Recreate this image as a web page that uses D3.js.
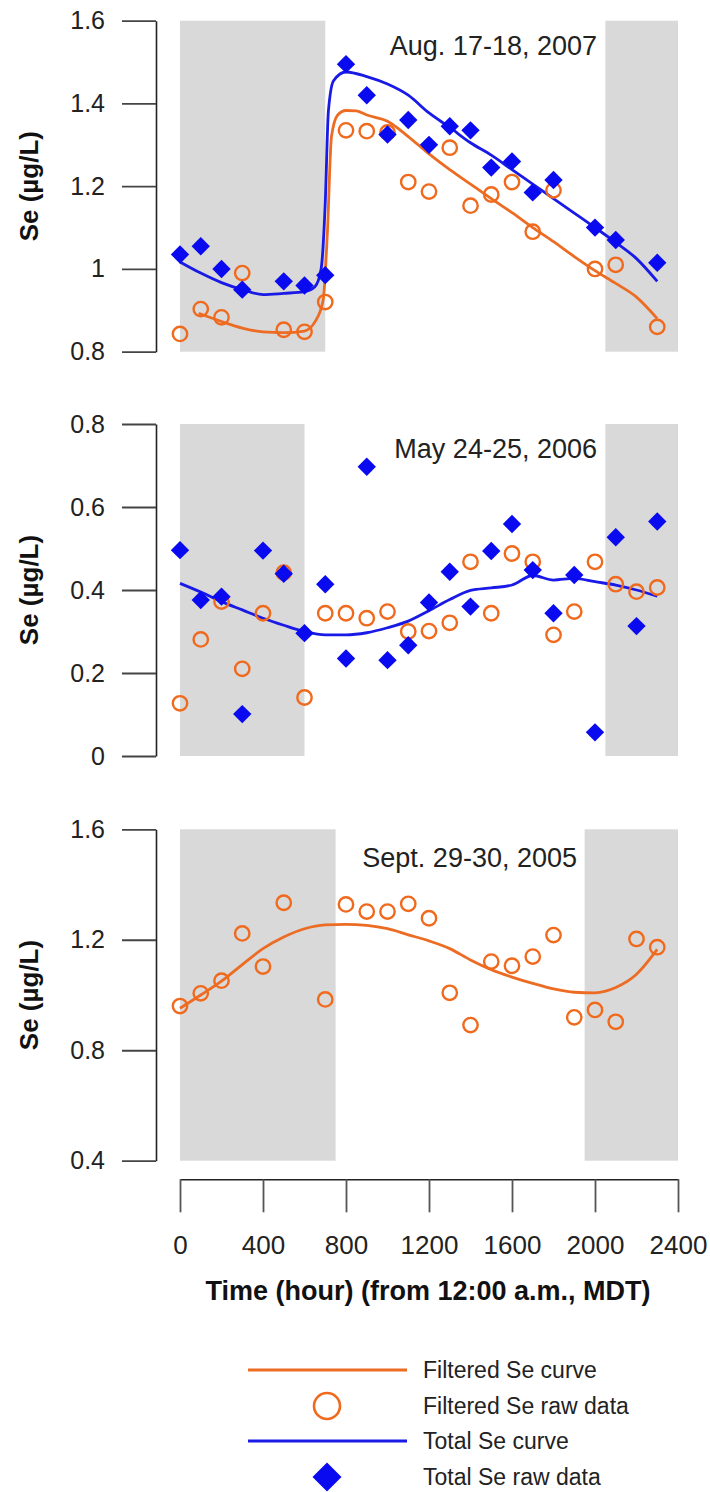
<!DOCTYPE html>
<html>
<head>
<meta charset="utf-8">
<script src="https://cdn.jsdelivr.net/npm/d3@7"></script>
<style>
  html, body { margin: 0; padding: 0; background: #fff; }
  svg { display: block; font-family: "Liberation Sans", Arial, sans-serif; }
</style>
</head>
<body>
<svg id="chart" width="710" height="1492"></svg>
<script>
// ---------- DATA ----------
const hours = [0,100,200,300,400,500,600,700,800,900,1000,1100,1200,1300,1400,1500,1600,1700,1800,1900,2000,2100,2200,2300];
const xTicks = [0,400,800,1200,1600,2000,2400];
const xTickLabels = ["0","400","800","1200","1600","2000","2400"];

// Panel 1: Aug. 17-18, 2007
const aug2007Title = "Aug. 17-18, 2007";
const aug2007YTicks = [0.8,1.0,1.2,1.4,1.6];
const aug2007YLabels = ["0.8","1","1.2","1.4","1.6"];
const aug2007Night = [[0,700],[2050,2400]];
const aug2007TotalRawT = [0,100,200,300,500,600,700,800,900,1000,1100,1200,1300,1400,1500,1600,1700,1800,2000,2100,2300];
const aug2007TotalRaw  = [1.035,1.055,1.0,0.95,0.97,0.96,0.985,1.495,1.42,1.325,1.36,1.30,1.345,1.335,1.245,1.26,1.185,1.215,1.10,1.07,1.015];
const aug2007FiltRawT  = [0,100,200,300,500,600,700,800,900,1000,1100,1200,1300,1400,1500,1600,1700,1800,2000,2100,2300];
const aug2007FiltRaw   = [0.843,0.903,0.883,0.99,0.853,0.848,0.92,1.335,1.333,1.33,1.21,1.187,1.293,1.153,1.18,1.21,1.09,1.19,1.0,1.01,0.86];
const aug2007TotalCurveT = [0,100,200,300,400,500,600,650,680,700,715,740,800,900,1000,1100,1200,1300,1400,1500,1600,1700,1800,1900,2000,2100,2200,2300];
const aug2007TotalCurve  = [1.017,0.99,0.967,0.95,0.938,0.941,0.945,0.957,1.0,1.16,1.38,1.455,1.476,1.465,1.447,1.42,1.377,1.342,1.305,1.275,1.24,1.205,1.17,1.135,1.1,1.064,1.025,0.97];
const aug2007FiltCurveT = [90,200,300,400,500,600,650,690,710,730,760,800,850,900,1000,1100,1200,1300,1400,1500,1600,1700,1800,1900,2000,2100,2200,2300];
const aug2007FiltCurve  = [0.893,0.873,0.857,0.848,0.846,0.85,0.872,0.925,1.085,1.32,1.372,1.383,1.382,1.372,1.357,1.32,1.278,1.24,1.205,1.17,1.136,1.1,1.066,1.03,0.996,0.965,0.932,0.88];

// Panel 2: May 24-25, 2006
const may2006Title = "May 24-25, 2006";
const may2006YTicks = [0,0.2,0.4,0.6,0.8];
const may2006YLabels = ["0","0.2","0.4","0.6","0.8"];
const may2006Night = [[0,600],[2050,2400]];
const may2006TotalRaw = [0.496,0.376,0.384,0.101,0.495,0.439,0.296,0.414,0.235,0.697,0.231,0.267,0.37,0.444,0.36,0.494,0.559,0.448,0.344,0.436,0.057,0.527,0.313,0.565];
const may2006FiltRaw  = [0.127,0.281,0.372,0.21,0.344,0.442,0.141,0.344,0.344,0.332,0.348,0.3,0.301,0.321,0.468,0.344,0.488,0.468,0.292,0.348,0.468,0.414,0.396,0.406];
const may2006TotalCurve = [0.416,0.395,0.372,0.352,0.332,0.315,0.3,0.292,0.292,0.297,0.309,0.325,0.35,0.377,0.399,0.405,0.412,0.435,0.424,0.428,0.42,0.412,0.4,0.385];

// Panel 3: Sept. 29-30, 2005
const sep2005Title = "Sept. 29-30, 2005";
const sep2005YTicks = [0.4,0.8,1.2,1.6];
const sep2005YLabels = ["0.4","0.8","1.2","1.6"];
const sep2005Night = [[0,750],[1950,2400]];
const sep2005FiltRawT = [0,100,200,300,400,500,700,800,900,1000,1100,1200,1300,1400,1500,1600,1700,1800,1900,2000,2100,2200,2300];
const sep2005FiltRaw  = [0.96,1.006,1.052,1.223,1.103,1.334,0.984,1.328,1.302,1.302,1.33,1.278,1.008,0.891,1.121,1.106,1.139,1.217,0.919,0.946,0.903,1.203,1.173];
const sep2005FiltCurve = [0.952,1.0,1.05,1.11,1.168,1.21,1.24,1.254,1.256,1.252,1.24,1.218,1.196,1.168,1.127,1.092,1.065,1.042,1.022,1.01,1.008,1.027,1.075,1.165];

// Legend
const legendLabels = ["Filtered Se curve","Filtered Se raw data","Total Se curve","Total Se raw data"];

// ---------- STYLE ----------
const ORANGE = "#f06a1e", ORANGE_LINE = "#ec6c24";
const BLUE = "#0a0af0", BLUE_LINE = "#1a1ae6";
const BAND = "#d9d9d9", INK = "#222";

const svg = d3.select("#chart");
const x = d3.scaleLinear().domain([0,2400]).range([180,678]);

const zip = (ts, vs) => ts.map((t,i) => ({t, v: vs[i]}));

const panels = [
  {title: aug2007Title, yDomain:[0.8,1.6], yRange:[351.7,20.7], ticks: aug2007YTicks, labels: aug2007YLabels, night: aug2007Night,
   filtCurve: zip(aug2007FiltCurveT, aug2007FiltCurve), totalCurve: zip(aug2007TotalCurveT, aug2007TotalCurve),
   filtRaw: zip(aug2007FiltRawT, aug2007FiltRaw), totalRaw: zip(aug2007TotalRawT, aug2007TotalRaw), titleX: 597, titleY: 55},
  {title: may2006Title, yDomain:[0,0.8], yRange:[756,424], ticks: may2006YTicks, labels: may2006YLabels, night: may2006Night,
   filtCurve: null, totalCurve: zip(hours, may2006TotalCurve),
   filtRaw: zip(hours, may2006FiltRaw), totalRaw: zip(hours, may2006TotalRaw), titleX: 597, titleY: 458},
  {title: sep2005Title, yDomain:[0.4,1.6], yRange:[1160.7,829.3], ticks: sep2005YTicks, labels: sep2005YLabels, night: sep2005Night,
   filtCurve: zip(hours, sep2005FiltCurve), totalCurve: null,
   filtRaw: zip(sep2005FiltRawT, sep2005FiltRaw), totalRaw: null, titleX: 577, titleY: 867}
];

function diamondPath(h) { // half-diagonal h
  return `M0,${-h}L${h},0L0,${h}L${-h},0Z`;
}

panels.forEach(p => {
  const y = d3.scaleLinear().domain(p.yDomain).range(p.yRange);
  const g = svg.append("g");

  // night bands
  g.selectAll("rect.band").data(p.night).enter().append("rect")
    .attr("x", d => x(d[0])).attr("width", d => x(d[1]) - x(d[0]))
    .attr("y", y(p.yDomain[1])).attr("height", y(p.yDomain[0]) - y(p.yDomain[1]))
    .attr("fill", BAND);

  // y axis
  const ax = g.append("g").attr("transform", "translate(156,0)")
    .call(d3.axisLeft(y).tickValues(p.ticks).tickFormat((d,i) => p.labels[i]).tickSize(34).tickSizeOuter(0).tickPadding(17));
  ax.select(".domain").attr("stroke", "#222").attr("stroke-width", 1.6);
  ax.selectAll(".tick line").attr("stroke", "#444").attr("stroke-width", 1.8);
  ax.selectAll(".tick text").attr("font-size", 25).attr("fill", INK)
    .attr("font-family", "'Liberation Sans', Arial, sans-serif");

  // y label
  const cy = (p.yRange[0] + p.yRange[1]) / 2;
  g.append("text").attr("transform", `translate(38,${cy}) rotate(-90)`)
    .attr("text-anchor", "middle").attr("font-weight", "bold").attr("font-size", 26).attr("fill", "#111")
    .text("Se (µg/L)");

  // title
  g.append("text").attr("x", p.titleX).attr("y", p.titleY).attr("text-anchor", "end")
    .attr("font-size", 27).attr("fill", INK).text(p.title);

  const line = d3.line().x(d => x(d.t)).y(d => y(d.v)).curve(d3.curveMonotoneX);

  if (p.totalCurve) g.append("path").datum(p.totalCurve).attr("d", line)
    .attr("fill", "none").attr("stroke", BLUE_LINE).attr("stroke-width", 2.8).attr("stroke-linejoin", "round");
  if (p.filtCurve) g.append("path").datum(p.filtCurve).attr("d", line)
    .attr("fill", "none").attr("stroke", ORANGE_LINE).attr("stroke-width", 2.8).attr("stroke-linejoin", "round");

  if (p.filtRaw) g.selectAll("circle.f").data(p.filtRaw).enter().append("circle")
    .attr("cx", d => x(d.t)).attr("cy", d => y(d.v)).attr("r", 7.2)
    .attr("fill", "none").attr("stroke", ORANGE).attr("stroke-width", 2.4);
  if (p.totalRaw) g.selectAll("path.d").data(p.totalRaw).enter().append("path")
    .attr("transform", d => `translate(${x(d.t)},${y(d.v)})`)
    .attr("d", diamondPath(9.2)).attr("fill", BLUE);
});

// x axis
const xa = svg.append("g").attr("transform", "translate(0,1179.3)")
  .call(d3.axisBottom(x).tickValues(xTicks).tickFormat((d,i) => xTickLabels[i]).tickSize(33).tickSizeOuter(0).tickPadding(23));
xa.select(".domain").attr("stroke", "#222").attr("stroke-width", 1.6);
xa.selectAll(".tick line").attr("stroke", "#555").attr("stroke-width", 1.8);
xa.selectAll(".tick text").attr("font-size", 26).attr("fill", INK)
  .attr("font-family", "'Liberation Sans', Arial, sans-serif");

svg.append("text").attr("x", 428).attr("y", 1300).attr("text-anchor", "middle")
  .attr("font-weight", "bold").attr("font-size", 27).attr("fill", "#111")
  .text("Time (hour) (from 12:00 a.m., MDT)");

// legend
const lg = svg.append("g");
const rowY = [1370, 1406, 1441, 1477];
lg.append("line").attr("x1", 248).attr("x2", 407).attr("y1", rowY[0]).attr("y2", rowY[0])
  .attr("stroke", ORANGE_LINE).attr("stroke-width", 3);
lg.append("circle").attr("cx", 327).attr("cy", rowY[1]).attr("r", 13)
  .attr("fill", "none").attr("stroke", ORANGE).attr("stroke-width", 2.6);
lg.append("line").attr("x1", 248).attr("x2", 407).attr("y1", rowY[2]).attr("y2", rowY[2])
  .attr("stroke", BLUE_LINE).attr("stroke-width", 3);
lg.append("path").attr("transform", `translate(327,${rowY[3]})`).attr("d", diamondPath(14.5)).attr("fill", BLUE);
lg.selectAll("text").data(legendLabels).enter().append("text")
  .attr("x", 423).attr("y", (d,i) => rowY[i] + 7.5)
  .attr("font-size", 23).attr("fill", INK).text(d => d);
</script>
</body>
</html>
